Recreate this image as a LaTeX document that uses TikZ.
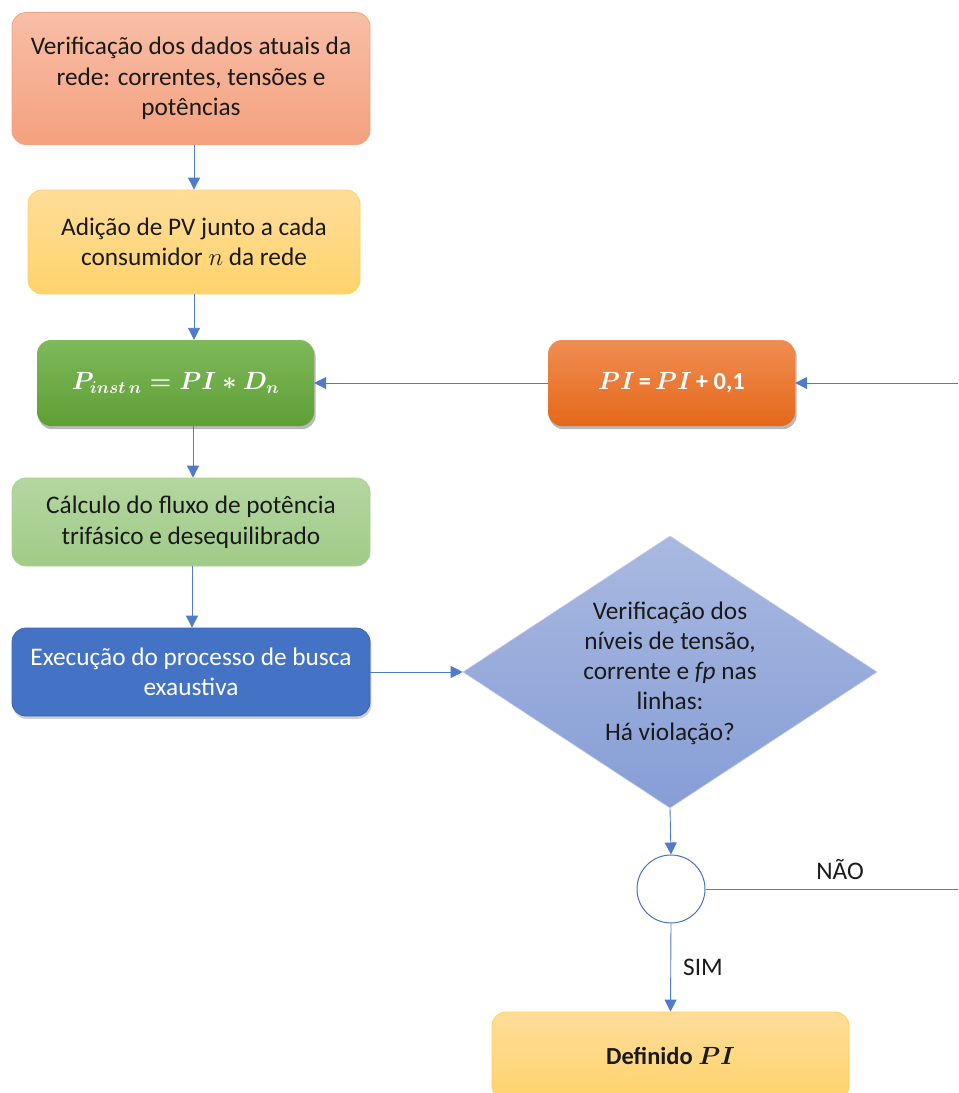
\documentclass[tikz,border=0pt]{standalone}
\usepackage{fontspec}
\setmainfont{Carlito}
\usetikzlibrary{shapes.geometric,arrows.meta,backgrounds,calc}
\definecolor{lnc}{HTML}{4F7BC8}
\definecolor{aTop}{HTML}{F8BEA7}
\definecolor{aBot}{HTML}{F4A17E}
\definecolor{aDr}{HTML}{F2A27F}
\definecolor{yTop}{HTML}{FFDD9A}
\definecolor{yBot}{HTML}{FFD36C}
\definecolor{yDr}{HTML}{FFD25E}
\definecolor{gTop}{HTML}{7EB95B}
\definecolor{gBot}{HTML}{5E9F34}
\definecolor{oTop}{HTML}{F08D52}
\definecolor{oBot}{HTML}{E4681A}
\definecolor{lgTop}{HTML}{B4D6A1}
\definecolor{lgBot}{HTML}{A1CB88}
\definecolor{lgDr}{HTML}{A9D18E}
\definecolor{bFill}{HTML}{4472C4}
\definecolor{bDr}{HTML}{3A65B0}
\definecolor{dTop}{HTML}{A9B9E0}
\definecolor{dBot}{HTML}{869ED6}
\definecolor{txt}{HTML}{1A1A1A}
\tikzset{
  box/.style={rounded corners=14pt, align=center, text=txt, inner sep=0pt,
    font=\fontsize{25.3}{30.5}\selectfont},
  shadowfill/.style={fill=black, opacity=0.28, rounded corners=14pt},
  arr/.style={draw=lnc, line width=0.9pt, -{Triangle[length=12pt,width=12pt]}},
  ln/.style={draw=lnc, line width=0.9pt},
  lbl/.style={font=\fontsize{25.3}{30.2}\selectfont, text=txt, inner sep=0pt}
}
\newcommand{\mybold}[1]{{\boldmath$#1$}}
\begin{document}
\begin{tikzpicture}[x=1pt,y=-1pt]
\useasboundingbox (0,0) rectangle (959,1093);
% boxes
\node[box, draw=aDr, line width=0.8pt, top color=aTop, bottom color=aBot,
  minimum width=358pt, minimum height=132pt] (b1) at (191,78.5)
  {Verificação dos dados atuais da\\rede: correntes, tensões e\\potências};
\node[box, draw=yDr, line width=0.8pt, top color=yTop, bottom color=yBot,
  minimum width=332pt, minimum height=104pt] (b2) at (194,242)
  {Adição de PV junto a cada\\consumidor $n$ da rede};
\node[box, top color=gTop, bottom color=gBot, text=white,
  minimum width=277pt, minimum height=86pt] (b3) at (175.5,383)
  {\fontsize{24}{30}\selectfont\mybold{P_{inst\,n} = PI \ast D_n}};
\node[box, top color=oTop, bottom color=oBot, text=white,
  minimum width=247pt, minimum height=86pt] (pi) at (671.5,383)
  {\fontsize{24.5}{30}\selectfont\mybold{PI}\,\textbf{=}\,\mybold{PI}\,\textbf{+ 0,1}};
\node[box, draw=lgDr, line width=0.8pt, top color=lgTop, bottom color=lgBot,
  minimum width=358pt, minimum height=88pt] (b4) at (191,522)
  {Cálculo do fluxo de potência\\trifásico e desequilibrado};
\node[box, draw=bDr, line width=0.8pt, fill=bFill, text=white,
  minimum width=358pt, minimum height=88pt] (b5) at (191,672)
  {Execução do processo de busca\\exaustiva};
\node[diamond, draw=dTop!80!white, line width=0.6pt, top color=dTop, bottom color=dBot,
  minimum width=414pt, minimum height=272pt, inner sep=0pt] (dec) at (670,672) {};
\node[lbl, align=center] (dectxt) at (670,673)
  {Verificação dos\\níveis de tensão,\\corrente e \textit{fp} nas\\linhas:\\Há violação?};
\node[circle, draw=bFill, line width=1pt, fill=white, minimum size=68pt, inner sep=0pt]
  (circ) at (671,889) {};
\node[box, draw=yDr, line width=0.8pt, top color=yTop, bottom color=yBot,
  minimum width=357pt, minimum height=88pt] (fin) at (670.5,1056)
  {\fontsize{24.5}{30}\selectfont\textbf{Definido} \mybold{PI}};
% shadows
\begin{scope}[on background layer]
\fill[shadowfill] ($(b3.south west)+(1.5,3)$) rectangle ($(b3.north east)+(1.5,3)$);
\fill[shadowfill] ($(pi.south west)+(1.5,3)$) rectangle ($(pi.north east)+(1.5,3)$);
\fill[shadowfill, opacity=0.18] ($(b5.south west)+(1,2.5)$) rectangle ($(b5.north east)+(1,2.5)$);
\end{scope}
% free ends
\coordinate (eA) at (958,383);
\coordinate (eB) at (958,889);
% connectors
\draw[arr] (b2.north |- b1.south) -- (b2.north);
\draw[arr] (b2.south) -- (b2.south |- b3.north);
\draw[arr] ([xshift=2pt]b4.north |- b3.south) -- ([xshift=2pt]b4.north);
\draw[arr] ([xshift=1pt]b4.south) -- ([xshift=1pt]b5.north);
\draw[arr] (b5.east) -- (dec.west);
\draw[arr] (eA) -- (pi.east);
\draw[arr] (pi.west) -- (b3.east);
\draw[arr] (dec.south) -- (circ.north);
\draw[arr] (circ.south) -- node[lbl, right=12pt] (sim) {SIM} (fin.north);
\draw[ln] (circ.east) -- (eB);
\node[lbl] (nao) at (840,870) {NÃO};
\end{tikzpicture}
\end{document}
